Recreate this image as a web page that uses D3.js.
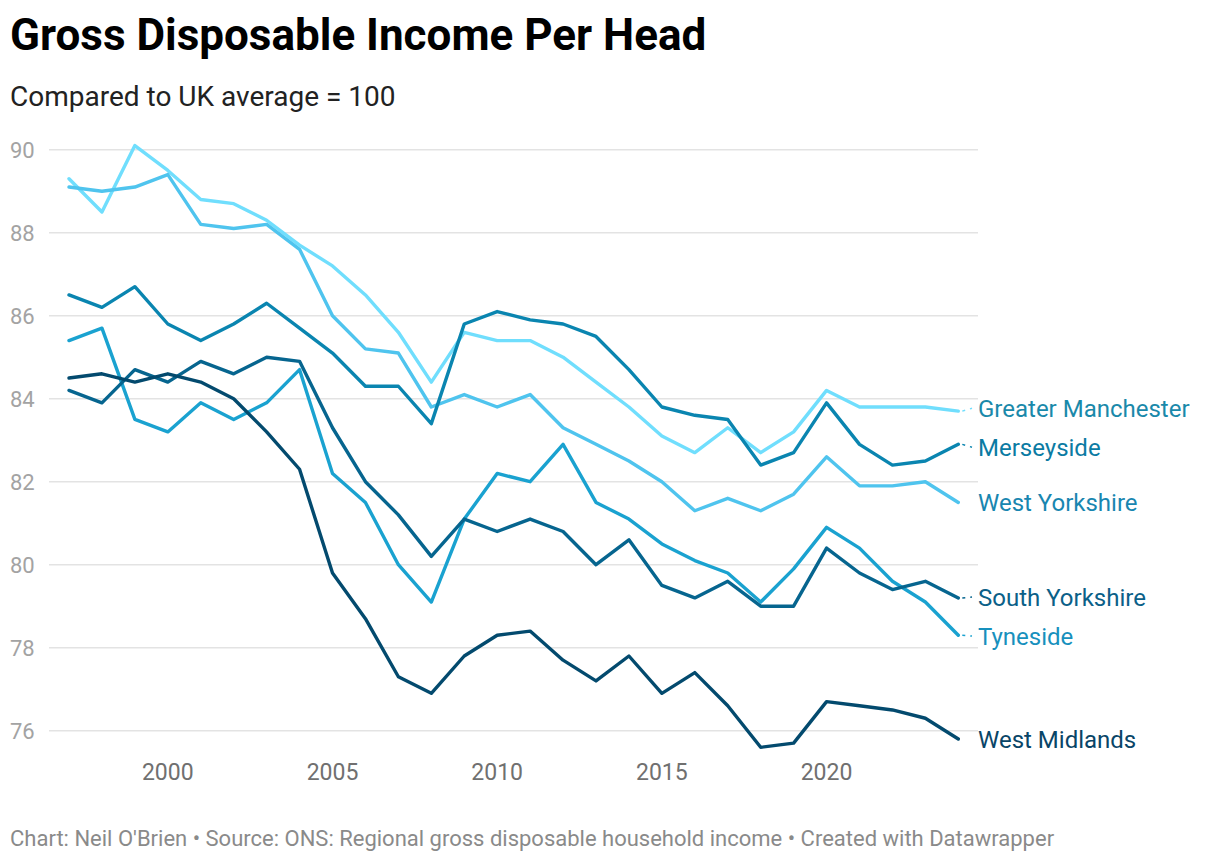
<!DOCTYPE html>
<html>
<head>
<meta charset="utf-8">
<script src="https://cdn.jsdelivr.net/npm/d3@7"></script>
<style>
  body { margin: 0; background: #fff; }
  svg { display: block; font-family: Roboto, "Noto Sans", sans-serif; }
</style>
</head>
<body>
<div id="chart"></div>
<script>
const years = d3.range(1997, 2025);
const yTicks = [76, 78, 80, 82, 84, 86, 88, 90];
const xTicks = [2000, 2005, 2010, 2015, 2020];

const greaterManchester = [89.3, 88.5, 90.1, 89.5, 88.8, 88.7, 88.3, 87.7, 87.2, 86.5, 85.6, 84.4, 85.6, 85.4, 85.4, 85.0, 84.4, 83.8, 83.1, 82.7, 83.3, 82.7, 83.2, 84.2, 83.8, 83.8, 83.8, 83.7];
const merseyside = [86.5, 86.2, 86.7, 85.8, 85.4, 85.8, 86.3, 85.7, 85.1, 84.3, 84.3, 83.4, 85.8, 86.1, 85.9, 85.8, 85.5, 84.7, 83.8, 83.6, 83.5, 82.4, 82.7, 83.9, 82.9, 82.4, 82.5, 82.9];
const westYorkshire = [89.1, 89.0, 89.1, 89.4, 88.2, 88.1, 88.2, 87.6, 86.0, 85.2, 85.1, 83.8, 84.1, 83.8, 84.1, 83.3, 82.9, 82.5, 82.0, 81.3, 81.6, 81.3, 81.7, 82.6, 81.9, 81.9, 82.0, 81.5];
const southYorkshire = [84.2, 83.9, 84.7, 84.4, 84.9, 84.6, 85.0, 84.9, 83.3, 82.0, 81.2, 80.2, 81.1, 80.8, 81.1, 80.8, 80.0, 80.6, 79.5, 79.2, 79.6, 79.0, 79.0, 80.4, 79.8, 79.4, 79.6, 79.2];
const tyneside = [85.4, 85.7, 83.5, 83.2, 83.9, 83.5, 83.9, 84.7, 82.2, 81.5, 80.0, 79.1, 81.1, 82.2, 82.0, 82.9, 81.5, 81.1, 80.5, 80.1, 79.8, 79.1, 79.9, 80.9, 80.4, 79.6, 79.1, 78.3];
const westMidlands = [84.5, 84.6, 84.4, 84.6, 84.4, 84.0, 83.2, 82.3, 79.8, 78.7, 77.3, 76.9, 77.8, 78.3, 78.4, 77.7, 77.2, 77.8, 76.9, 77.4, 76.6, 75.6, 75.7, 76.7, 76.6, 76.5, 76.3, 75.8];

const series = [
  { name: "Greater Manchester", values: greaterManchester, color: "#70defd", label: "#1a89aa" },
  { name: "West Yorkshire", values: westYorkshire, color: "#4fc4ee", label: "#1886b0" },
  { name: "Merseyside", values: merseyside, color: "#0a85b0", label: "#0b7ba3" },
  { name: "Tyneside", values: tyneside, color: "#1aa2d0", label: "#1790bd" },
  { name: "South Yorkshire", values: southYorkshire, color: "#06658f", label: "#0b6088" },
  { name: "West Midlands", values: westMidlands, color: "#034a6e", label: "#094567" }
];

const width = 1220, height = 862;

const svg = d3.select("#chart").append("svg")
  .attr("width", width)
  .attr("height", height);

const x = d3.scaleLinear().domain([1997, 2024]).range([69, 958.3]);
const y = d3.scaleLinear().domain([76, 90]).range([730.7, 149.7]);

// title block
svg.append("text")
  .attr("x", 10).attr("y", 50)
  .attr("font-size", 44).attr("font-weight", 700).attr("fill", "#000")
  .text("Gross Disposable Income Per Head");

svg.append("text")
  .attr("x", 10).attr("y", 106)
  .attr("font-size", 28).attr("fill", "#222")
  .text("Compared to UK average = 100");

// y grid + labels
const grid = svg.append("g");
grid.selectAll("line").data(yTicks).join("line")
  .attr("x1", 49).attr("x2", 978)
  .attr("y1", d => y(d)).attr("y2", d => y(d))
  .attr("stroke", "#e3e3e3").attr("stroke-width", 1.5);
grid.selectAll("text").data(yTicks).join("text")
  .attr("x", 10).attr("y", d => y(d) + 8)
  .attr("font-size", 22).attr("fill", "#a3a3a3")
  .text(d => d);

// x axis labels
svg.append("g").selectAll("text").data(xTicks).join("text")
  .attr("x", d => x(d)).attr("y", 780)
  .attr("text-anchor", "middle")
  .attr("font-size", 23).attr("fill", "#707070")
  .text(d => d);

// lines
const line = d3.line()
  .x((d, i) => x(years[i]))
  .y(d => y(d));

svg.append("g").selectAll("path").data(series).join("path")
  .attr("d", d => line(d.values))
  .attr("fill", "none")
  .attr("stroke", d => d.color)
  .attr("stroke-width", 3.4)
  .attr("stroke-linejoin", "round")
  .attr("stroke-linecap", "round");

// direct labels with simple collision avoidance
const minGap = 39;
const labels = series.map(s => {
  const v = s.values[s.values.length - 1];
  return { s, endY: y(v), ly: y(v) };
}).sort((a, b) => a.endY - b.endY);

for (let iter = 0; iter < 20; iter++) {
  for (let i = 1; i < labels.length; i++) {
    const gap = labels[i].ly - labels[i - 1].ly;
    if (gap < minGap) {
      const push = (minGap - gap) / 2;
      labels[i - 1].ly -= push;
      labels[i].ly += push;
    }
  }
}

const lastX = x(2024);
labels.forEach(l => {
  if (Math.abs(l.ly - l.endY) > 0.5) {
    svg.append("line")
      .attr("x1", lastX + 4).attr("y1", l.endY)
      .attr("x2", 972).attr("y2", l.ly)
      .attr("stroke", l.s.color)
      .attr("stroke-width", 1.5)
      .attr("stroke-dasharray", "3,5");
  }
  svg.append("text")
    .attr("x", 978).attr("y", l.ly + 8.5)
    .attr("font-size", 24)
    .attr("fill", l.s.label)
    .text(l.s.name);
});

// footer
svg.append("text")
  .attr("x", 10).attr("y", 846)
  .attr("font-size", 22).attr("fill", "#8a8a8a")
  .text("Chart: Neil O'Brien \u2022 Source: ONS: Regional gross disposable household income \u2022 Created with Datawrapper");
</script>
</body>
</html>
